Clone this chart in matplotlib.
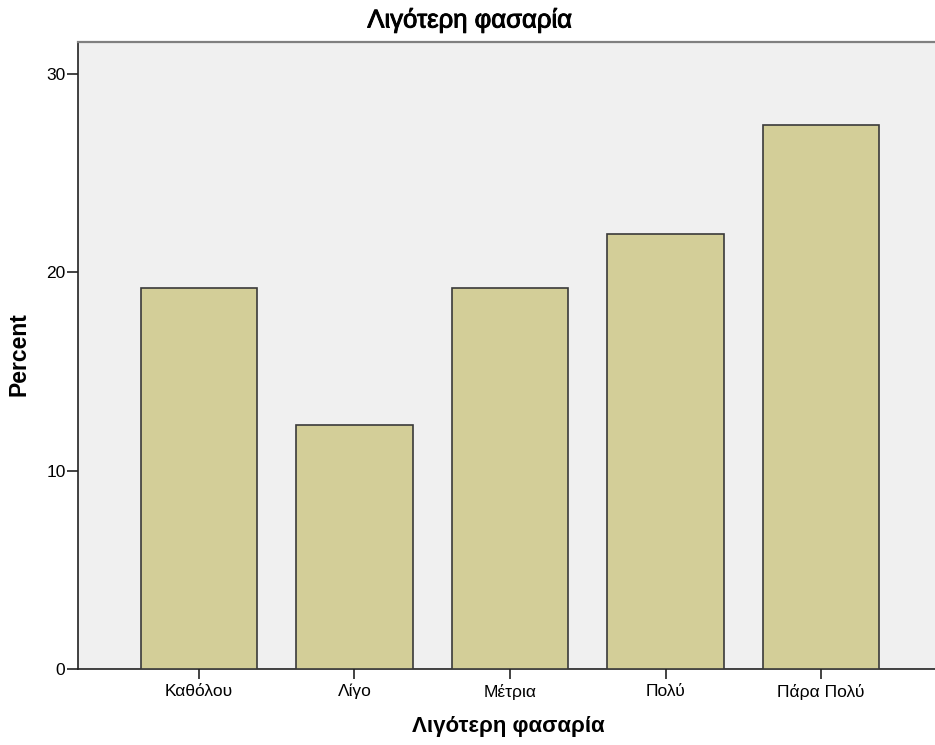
import matplotlib
matplotlib.use("Agg")
import matplotlib.pyplot as plt
import matplotlib.patheffects as pe

categories = ["Καθόλου", "Λίγο", "Μέτρια", "Πολύ", "Πάρα Πολύ"]
percent = [19.2, 12.3, 19.2, 21.9, 27.4]
yticks = [0, 10, 20, 30]

plt.rcParams['font.family'] = ['Liberation Sans', 'DejaVu Sans']

fig = plt.figure(figsize=(9.35, 7.45), dpi=100)
L, B, T = 78, 669, 42
W = 935 - L
H = B - T
ax = fig.add_axes([L/935, 1 - B/745, W/935, H/745])
ax.set_facecolor("#F0F0F0")

x = list(range(len(categories)))
ax.bar(x, percent, width=0.752, color="#D3CE98", edgecolor="#3A3A3A", linewidth=1.2, zorder=3)

ax.set_xlim(-0.778, 4.733)
ax.set_ylim(0, 31.6)
ax.set_xticks(x)
ax.set_xticklabels(categories, fontsize=12.5)
ax.set_yticks(yticks)
ax.set_yticklabels([str(v) for v in yticks], fontsize=12.5)
ax.tick_params(axis='y', direction='out', length=8, width=1.2, color="#222222", pad=1)
ax.tick_params(axis='x', direction='out', length=7.5, width=1.2, color="#222222", pad=3)

ax.spines["right"].set_visible(False)
ax.spines["top"].set_color("#808080")
ax.spines["top"].set_linewidth(1.6)
for s in ["left", "bottom"]:
    ax.spines[s].set_color("#222222")
    ax.spines[s].set_linewidth(1.2)

ax.set_ylabel("Percent", fontsize=16.5, fontweight="bold")
ax.yaxis.set_label_coords((31 - L) / W, 0.502)
ax.set_xlabel("Λιγότερη φασαρία", fontsize=16, fontweight="bold")
ax.xaxis.set_label_coords((508 - L) / W, (B - 716) / H)
fig.text(470/935, 1 - 20/745, "Λιγότερη φασαρία", ha="center", va="center",
         fontsize=18.5,
         path_effects=[pe.withStroke(linewidth=0.7, foreground="black")])

fig.savefig("out.png", dpi=100)
